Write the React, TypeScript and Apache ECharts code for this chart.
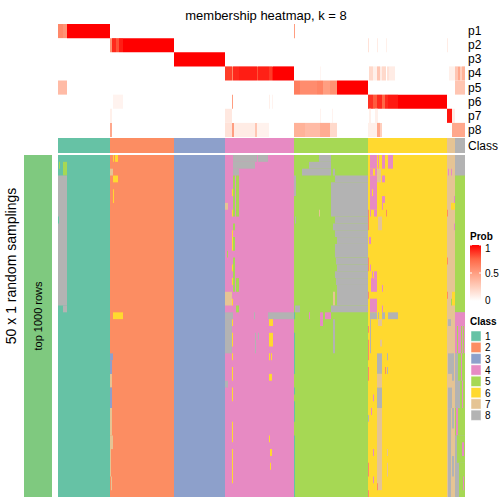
import React, { useEffect, useRef } from "react";
import * as echarts from "echarts";

const chartTitle = "membership heatmap, k = 8";
const rowTitle = "50 x 1 random samplings";
const blockLabel = "top 1000 rows";
const probRows = ["p1", "p2", "p3", "p4", "p5", "p6", "p7", "p8"];
const classLabels = ["1", "2", "3", "4", "5", "6", "7", "8"];
const classColors = ["#66C2A5", "#FC8D62", "#8DA0CB", "#E78AC3", "#A6D854", "#FFD92F", "#E5C494", "#B3B3B3"];
// number of samples assigned to each consensus class (left to right)
const classCounts = [52, 64, 51, 69, 74, 79, 8, 10];
const nSamplings = 50;
const probTicks = [0, 0.5, 1];

// membership probabilities: [pRow, sampleStart, sampleEnd, prob]
const membershipP1 = [[0, 0, 5, 0.6], [0, 5, 9, 0.55], [0, 9, 52, 1], [0, 236, 237, 0.5]];
const membershipP2 = [[1, 52, 54, 0.55], [1, 54, 58, 0.9], [1, 58, 61, 0.8], [1, 61, 65, 0.93], [1, 65, 116, 1], [1, 310, 311, 0.15], [1, 319, 320, 0.1], [1, 328, 329, 0.08], [1, 389, 390, 0.1]];
const membershipP3 = [[2, 116, 167, 1]];
const membershipP4 = [[3, 167, 174, 0.85], [3, 174, 175, 0.6], [3, 175, 181, 0.9], [3, 181, 199, 0.93], [3, 199, 200, 0.8], [3, 200, 211, 0.92], [3, 211, 214, 0.86], [3, 214, 215, 0.92], [3, 215, 236, 1], [3, 262, 263, 0.05], [3, 311, 315, 0.2], [3, 315, 319, 0.08], [3, 319, 322, 0.3], [3, 322, 324, 0.1], [3, 324, 328, 0.2], [3, 329, 331, 0.15], [3, 331, 337, 0.1], [3, 391, 397, 0.08], [3, 397, 400, 0.3], [3, 400, 402, 0.45], [3, 402, 404, 0.25], [3, 404, 407, 0.4]];
const membershipP5 = [[4, 0, 9, 0.35], [4, 236, 242, 0.65], [4, 242, 259, 0.58], [4, 259, 265, 0.62], [4, 265, 272, 0.5], [4, 272, 279, 0.56], [4, 279, 310, 1], [4, 397, 407, 0.3]];
const membershipP6 = [[5, 55, 65, 0.06], [5, 174, 175, 0.5], [5, 211, 212, 0.08], [5, 214, 215, 0.06], [5, 310, 315, 0.88], [5, 315, 319, 0.78], [5, 319, 324, 0.9], [5, 324, 327, 0.75], [5, 327, 330, 0.9], [5, 330, 340, 0.94], [5, 340, 389, 1]];
const membershipP7 = [[6, 52, 54, 0.08], [6, 167, 174, 0.12], [6, 262, 263, 0.06], [6, 274, 275, 0.06], [6, 311, 313, 0.08], [6, 317, 320, 0.08], [6, 389, 394, 0.95], [6, 394, 397, 0.1]];
const membershipP8 = [[7, 52, 54, 0.45], [7, 167, 174, 0.15], [7, 174, 176, 0.5], [7, 176, 197, 0.1], [7, 197, 199, 0.3], [7, 199, 211, 0.07], [7, 236, 247, 0.4], [7, 247, 262, 0.35], [7, 262, 272, 0.43], [7, 272, 279, 0.2], [7, 310, 319, 0.08], [7, 319, 322, 0.45], [7, 322, 324, 0.25], [7, 394, 407, 0.45]];

// per-sampling class calls that differ from the consensus: [rowStart, rowEnd, sampleStart, sampleEnd, class]
const callsRegion1 = [[1, 1, 1, 2, 5], [1, 2, 5, 9, 5], [3, 21, 0, 9, 8], [9, 9, 0, 1, 1], [22, 22, 5, 9, 8]];
const callsRegion2 = [[0, 0, 55, 56, 6], [0, 0, 57, 60, 6], [2, 2, 52, 55, 7], [3, 3, 55, 60, 6], [5, 6, 55, 56, 6], [23, 23, 55, 65, 6], [29, 29, 52, 55, 3], [30, 31, 52, 54, 3], [32, 33, 52, 54, 7], [34, 36, 52, 54, 3], [37, 40, 52, 54, 7], [41, 42, 52, 55, 7], [43, 46, 52, 53, 7], [47, 48, 53, 54, 7]];
const callsRegion4 = [[0, 0, 175, 199, 8], [0, 0, 200, 210, 8], [1, 1, 175, 197, 8], [2, 2, 175, 181, 8], [3, 8, 175, 177, 5], [3, 8, 178, 181, 5], [10, 10, 175, 177, 5], [12, 13, 175, 177, 5], [15, 19, 175, 177, 5], [18, 19, 178, 181, 5], [22, 22, 178, 181, 5], [14, 14, 169, 170, 5], [5, 5, 174, 175, 6], [8, 8, 174, 175, 6], [11, 13, 174, 175, 6], [16, 16, 174, 175, 6], [18, 18, 174, 175, 6], [21, 21, 174, 175, 6], [24, 24, 174, 175, 6], [26, 27, 174, 175, 6], [29, 29, 174, 175, 6], [31, 32, 174, 175, 6], [34, 35, 174, 175, 6], [39, 41, 174, 175, 6], [43, 47, 174, 175, 6], [7, 7, 167, 170, 7], [20, 21, 167, 174, 7], [23, 23, 167, 175, 8], [23, 23, 196, 197, 8], [23, 23, 210, 236, 8], [24, 28, 167, 174, 8], [33, 33, 167, 170, 8], [24, 24, 211, 215, 6], [26, 27, 211, 215, 6], [29, 29, 211, 212, 6], [29, 29, 213, 214, 6], [32, 32, 211, 214, 6], [41, 41, 211, 212, 6], [43, 43, 212, 214, 6], [45, 45, 212, 213, 6], [26, 28, 197, 198, 8], [26, 26, 200, 201, 8]];
const callsRegion5 = [[0, 0, 261, 273, 8], [1, 1, 251, 273, 8], [2, 2, 244, 273, 8], [2, 2, 275, 277, 8], [3, 3, 277, 310, 8], [4, 8, 273, 310, 8], [9, 9, 277, 310, 8], [10, 10, 275, 310, 8], [11, 11, 277, 310, 8], [12, 12, 279, 310, 8], [13, 14, 277, 310, 8], [15, 15, 278, 310, 8], [16, 16, 279, 310, 8], [17, 17, 277, 310, 8], [18, 18, 278, 310, 8], [19, 21, 279, 310, 8], [20, 21, 275, 277, 7], [22, 22, 273, 310, 8], [22, 22, 237, 242, 8], [3, 5, 236, 238, 8], [9, 9, 237, 238, 8], [8, 8, 261, 262, 7], [23, 23, 236, 237, 1], [23, 23, 251, 252, 4], [23, 23, 262, 265, 4], [23, 23, 267, 273, 4], [24, 24, 262, 265, 4], [24, 28, 275, 277, 8], [26, 31, 236, 237, 1], [34, 34, 236, 237, 1], [36, 38, 236, 237, 1], [41, 49, 236, 237, 1]];
const callsRegion6 = [[0, 1, 312, 319, 4], [0, 1, 320, 321, 4], [0, 1, 324, 327, 4], [0, 1, 330, 335, 4], [2, 2, 312, 315, 4], [2, 2, 317, 319, 4], [2, 3, 319, 323, 7], [3, 7, 312, 319, 4], [3, 3, 324, 327, 4], [5, 5, 314, 315, 6], [6, 6, 324, 327, 4], [7, 7, 324, 325, 4], [8, 8, 312, 313, 4], [8, 8, 316, 319, 4], [8, 8, 328, 329, 2], [8, 10, 310, 311, 2], [9, 10, 320, 324, 7], [12, 12, 311, 313, 4], [15, 16, 310, 311, 2], [16, 16, 312, 313, 4], [17, 17, 314, 315, 4], [17, 17, 316, 319, 4], [18, 19, 313, 319, 4], [19, 19, 324, 325, 4], [20, 20, 310, 311, 2], [21, 22, 312, 319, 4], [22, 22, 324, 325, 4], [23, 23, 312, 319, 8], [23, 23, 320, 321, 8], [23, 23, 324, 327, 8], [23, 23, 330, 340, 8], [24, 24, 320, 324, 7], [24, 28, 312, 313, 8], [27, 27, 322, 324, 7], [25, 25, 310, 311, 2], [27, 29, 310, 311, 2], [31, 32, 310, 311, 2], [45, 46, 310, 311, 2], [49, 49, 310, 311, 2], [29, 31, 319, 324, 8], [32, 33, 319, 324, 7], [34, 36, 319, 324, 8], [37, 48, 319, 324, 7], [29, 29, 329, 330, 8], [31, 31, 327, 328, 2], [31, 31, 329, 330, 8], [35, 35, 315, 316, 4], [37, 37, 313, 314, 4], [38, 38, 310, 311, 8], [43, 43, 315, 316, 4], [47, 47, 315, 316, 4], [43, 43, 329, 330, 7], [45, 46, 329, 330, 7], [48, 48, 319, 320, 2]];
const callsRegion7 = [[2, 2, 390, 391, 4], [2, 2, 393, 394, 4], [6, 6, 396, 397, 4], [7, 7, 393, 397, 6], [8, 8, 389, 390, 2], [15, 15, 389, 390, 2], [20, 20, 389, 390, 2], [10, 10, 396, 397, 4], [20, 21, 394, 397, 6], [21, 21, 393, 394, 5], [24, 24, 390, 393, 8], [29, 31, 390, 394, 8], [29, 32, 394, 396, 8], [34, 36, 390, 394, 8], [37, 49, 390, 393, 8], [37, 39, 394, 396, 8], [44, 46, 394, 396, 8]];
const callsRegion8 = [[3, 22, 397, 407, 5], [23, 28, 397, 407, 4], [25, 28, 399, 400, 5], [25, 28, 403, 404, 5], [25, 28, 405, 406, 5], [29, 32, 400, 407, 5], [29, 32, 403, 404, 4], [29, 32, 398, 399, 8], [33, 36, 402, 407, 5], [33, 36, 404, 405, 4], [37, 40, 397, 407, 5], [37, 40, 398, 400, 4], [41, 44, 399, 407, 5], [42, 43, 404, 406, 4], [45, 49, 401, 407, 5], [47, 48, 405, 406, 4]];

const FONT = "'Liberation Sans', Arial, Helvetica, sans-serif";
const probStops = [
  [0, [255, 255, 255]],
  [0.25, [255, 207, 190]],
  [0.5, [255, 158, 129]],
  [0.75, [255, 103, 70]],
  [1, [255, 0, 0]],
] as [number, number[]][];

function probColor(p: number): string {
  for (let i = 1; i < probStops.length; i++) {
    const [p1, c1] = probStops[i];
    const [p0, c0] = probStops[i - 1];
    if (p <= p1) {
      const t = (p - p0) / (p1 - p0);
      const c = c0.map((v, k) => Math.round(v + (c1[k] - v) * t));
      return `rgb(${c[0]},${c[1]},${c[2]})`;
    }
  }
  return "rgb(255,0,0)";
}

export default function App() {
  const ref = useRef<HTMLDivElement>(null);
  useEffect(() => {
    if (!ref.current) return;
    const chart = echarts.init(ref.current, undefined, { renderer: "svg" });
    const total = classCounts.reduce((a, b) => a + b, 0);
    const classRuns: number[][] = [];
    let acc = 0;
    classCounts.forEach((n, i) => {
      classRuns.push([acc, acc + n, i + 1]);
      acc += n;
    });
    const membership = [
      ...membershipP1, ...membershipP2, ...membershipP3, ...membershipP4,
      ...membershipP5, ...membershipP6, ...membershipP7, ...membershipP8,
    ];
    const bodyData = [
      ...classRuns.map((r) => [0, nSamplings - 1, r[0], r[1], r[2]]),
      ...callsRegion1, ...callsRegion2, ...callsRegion4, ...callsRegion5,
      ...callsRegion6, ...callsRegion7, ...callsRegion8,
    ];

    const rectFrom = (a: number[], b: number[], fill: string) => ({
      type: "rect",
      shape: {
        x: Math.min(a[0], b[0]),
        y: Math.min(a[1], b[1]),
        width: Math.abs(b[0] - a[0]),
        height: Math.abs(b[1] - a[1]),
      },
      style: { fill, stroke: null },
    });

    const legendX = 470;
    const barTop = 245;
    const barH = 56;
    const graphics: any[] = [
      {
        type: "rect",
        shape: { x: 24, y: 155, width: 28, height: 342 },
        style: { fill: "#7FC97F" },
      },
      {
        type: "text",
        x: 38,
        y: 316,
        rotation: Math.PI / 2,
        style: { text: blockLabel, font: `11px ${FONT}`, fill: "#000", align: "center", verticalAlign: "middle" },
      },
      {
        type: "text",
        x: 11,
        y: 266,
        rotation: Math.PI / 2,
        style: { text: rowTitle, font: `14px ${FONT}`, fill: "#000", align: "center", verticalAlign: "middle" },
      },
      {
        type: "text",
        x: legendX,
        y: 236,
        style: { text: "Prob", font: `bold 10px ${FONT}`, fill: "#000", align: "left", verticalAlign: "middle" },
      },
      {
        type: "rect",
        shape: { x: legendX, y: barTop, width: 11, height: barH },
        style: {
          fill: {
            type: "linear", x: 0, y: 0, x2: 0, y2: 1,
            colorStops: probStops.slice().reverse().map(([p, c]) => ({ offset: 1 - p, color: `rgb(${c[0]},${c[1]},${c[2]})` })),
          },
        },
      },
      ...probTicks.map((t) => ({
        type: "text",
        x: legendX + 15,
        y: barTop + barH - t * barH + (t === 1 ? 3 : t === 0 ? -1 : 0),
        style: { text: String(t), font: `10px ${FONT}`, fill: "#000", align: "left", verticalAlign: "middle" },
      })),
      ...probTicks.flatMap((t) => {
        const y = barTop + barH - t * barH;
        return [
          { type: "line", shape: { x1: legendX, y1: y, x2: legendX + 2, y2: y }, style: { stroke: "#fff", lineWidth: 1 } },
          { type: "line", shape: { x1: legendX + 9, y1: y, x2: legendX + 11, y2: y }, style: { stroke: "#fff", lineWidth: 1 } },
        ];
      }),
      {
        type: "text",
        x: legendX,
        y: 321,
        style: { text: "Class", font: `bold 10px ${FONT}`, fill: "#000", align: "left", verticalAlign: "middle" },
      },
      ...classLabels.flatMap((lab, i) => {
        const y = 331 + i * 11.3;
        return [
          { type: "rect", shape: { x: legendX + 1, y, width: 10, height: 10.3 }, style: { fill: classColors[i], stroke: "#fff", lineWidth: 0.5 } },
          { type: "text", x: legendX + 15, y: y + 5.5, style: { text: lab, font: `10px ${FONT}`, fill: "#000", align: "left", verticalAlign: "middle" } },
        ];
      }),
    ];

    const hiddenValueX = (gridIndex: number) => ({
      type: "value", gridIndex, min: 0, max: total, show: false,
    });

    chart.setOption({
      animation: false,
      backgroundColor: "#fff",
      title: {
        text: chartTitle,
        left: 261,
        top: 4,
        textAlign: "center",
        textStyle: { fontSize: 13, fontWeight: "normal", fontFamily: FONT, color: "#000" },
      },
      grid: [
        { left: 58, top: 24, width: 407, height: 113 },
        { left: 58, top: 138, width: 407, height: 15 },
        { left: 58, top: 155, width: 407, height: 342 },
      ],
      xAxis: [hiddenValueX(0), hiddenValueX(1), hiddenValueX(2)],
      yAxis: [
        { type: "value", gridIndex: 0, min: 0, max: probRows.length, inverse: true, show: false },
        {
          type: "category", gridIndex: 0, data: probRows, inverse: true, position: "right",
          axisLine: { show: false }, axisTick: { show: false }, splitLine: { show: false },
          axisLabel: { interval: 0, fontSize: 12, fontFamily: FONT, color: "#000", margin: 3 },
        },
        { type: "value", gridIndex: 1, min: 0, max: 1, show: false },
        {
          type: "category", gridIndex: 1, data: ["Class"], position: "right",
          axisLine: { show: false }, axisTick: { show: false }, splitLine: { show: false },
          axisLabel: { interval: 0, fontSize: 12, fontFamily: FONT, color: "#000", margin: 3 },
        },
        { type: "value", gridIndex: 2, min: 0, max: nSamplings, inverse: true, show: false },
      ],
      series: [
        {
          type: "custom",
          xAxisIndex: 0,
          yAxisIndex: 0,
          data: membership,
          encode: { x: [1, 2], y: 0 },
          renderItem: (_params: any, api: any) => {
            const row = api.value(0);
            const a = api.coord([api.value(1), row]);
            const b = api.coord([api.value(2), row + 1]);
            return rectFrom(a, b, probColor(api.value(3)));
          },
        },
        {
          type: "custom",
          xAxisIndex: 1,
          yAxisIndex: 2,
          data: classRuns,
          encode: { x: [0, 1] },
          renderItem: (_params: any, api: any) => {
            const a = api.coord([api.value(0), 0]);
            const b = api.coord([api.value(1), 1]);
            return rectFrom(a, b, classColors[api.value(2) - 1]);
          },
        },
        {
          type: "custom",
          xAxisIndex: 2,
          yAxisIndex: 4,
          data: bodyData,
          encode: { x: [2, 3], y: [0, 1] },
          renderItem: (_params: any, api: any) => {
            const a = api.coord([api.value(2), api.value(0)]);
            const b = api.coord([api.value(3), api.value(1) + 1]);
            return rectFrom(a, b, classColors[api.value(4) - 1]);
          },
        },
      ],
      graphic: graphics,
    });
    return () => chart.dispose();
  }, []);
  return (
    <div
      ref={ref}
      style={{ position: "absolute", left: 0, top: 0, width: 504, height: 504 }}
    />
  );
}
